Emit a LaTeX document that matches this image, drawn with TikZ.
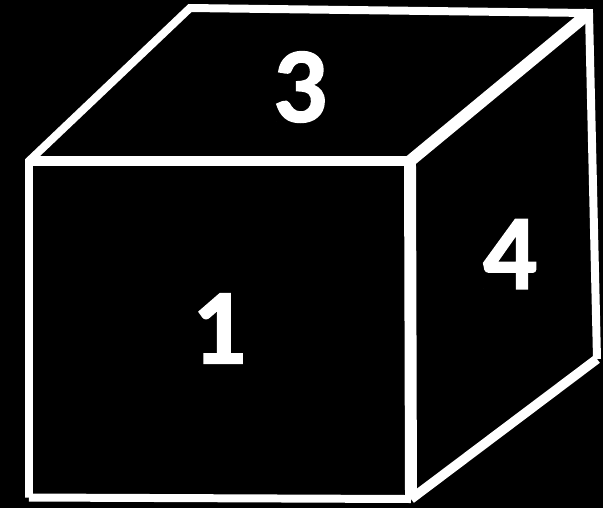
\documentclass[tikz,border=0pt]{standalone}
\usepackage{fontspec}
\setmainfont{Carlito}[BoldFeatures={FakeBold=1.3}]
\usetikzlibrary{positioning}
\begin{document}
\begin{tikzpicture}[x=0.01cm, y=-0.01cm, line join=miter]
    \tikzset{
        edge/.style={draw=white, line width=2.27pt},
        midedge/.style={edge, line width=2.7pt},
        heavyedge/.style={edge, line width=3.4pt},
        facelabel/.style={text=white, font=\fontsize{30.5}{30.5}\selectfont\bfseries, inner sep=0pt}
    }
    % Background
    \fill[black] (0,0) rectangle (603,508);
    \useasboundingbox (0,0) rectangle (603,508);

    % Corners
    \coordinate (ftl) at (29,161);
    \coordinate (ftr) at (410,161);
    \coordinate (fbl) at (29,497.5);
    \coordinate (fbr) at (411,499);
    \coordinate (btl) at (190,8);
    \coordinate (btr) at (589,13);
    \coordinate (bbr) at (597,359);

    % Edges
    \draw[edge] (fbl) -- (ftl) -- (btl) -- (btr) -- (bbr);
    \draw[edge] (fbl) -- (fbr);
    \draw[midedge] (ftl) -- (ftr);
    \draw[midedge] (bbr) -- (fbr);
    \draw[heavyedge] (ftr) -- (fbr);
    \draw[heavyedge] (ftr) -- (btr);

    % Labels
    \node[facelabel] (three) at (300,87) {3};
    \node[facelabel] (one) at (219,328.5) {1};
    \node[facelabel] (four) at (510,254) {4};
\end{tikzpicture}
\end{document}
